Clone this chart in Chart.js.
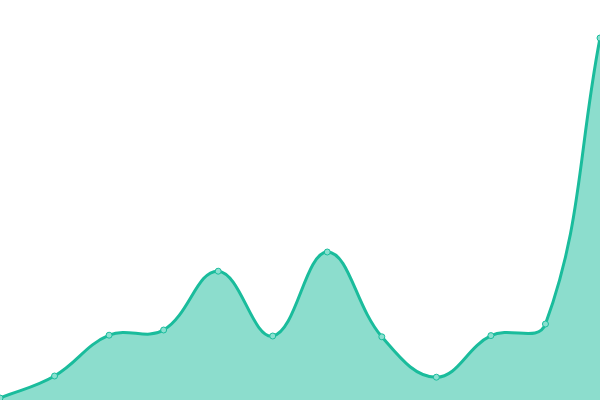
<!DOCTYPE html>
<html>
<head>
<meta charset="utf-8">
<script src="https://cdn.jsdelivr.net/npm/chart.js@4"></script>
<style>
  html, body { margin: 0; padding: 0; background: #fff; }
  #wrap { width: 600px; height: 400px; }
</style>
</head>
<body>
<div id="wrap"><canvas id="myChart"></canvas></div>
<script>
// categories and values
let labels = ["1", "2", "3", "4", "5", "6", "7", "8", "9", "10", "11", "12"];
let values = [0.5, 6, 16.2, 17.5, 32.2, 16, 37, 15.8, 5.7, 16.1, 19, 90.5];

function createChart() {
  var ctx = document.getElementById("myChart").getContext("2d");
  var chart = new Chart(ctx, {
    type: "line",
    data: {
      labels: labels,
      datasets: [
        {
          label: "Series",
          data: values,
          fill: "origin",
          backgroundColor: "rgba(26, 188, 156, 0.5)",
          borderColor: "#1abc9c",
          borderWidth: 3,
          tension: 0.4,
          pointRadius: 3,
          pointBorderWidth: 1,
          pointBackgroundColor: "#8ae0d0",
          pointBorderColor: "#1abc9c",
        },
      ],
    },
    options: {
      responsive: true,
      maintainAspectRatio: false,
      animation: false,
      layout: { padding: 0, autoPadding: false },
      plugins: {
        legend: { display: false },
        tooltip: { enabled: false },
      },
      scales: {
        x: { display: false },
        y: { display: false, min: 0, max: 100 },
      },
    },
  });
}

createChart();
</script>
</body>
</html>
